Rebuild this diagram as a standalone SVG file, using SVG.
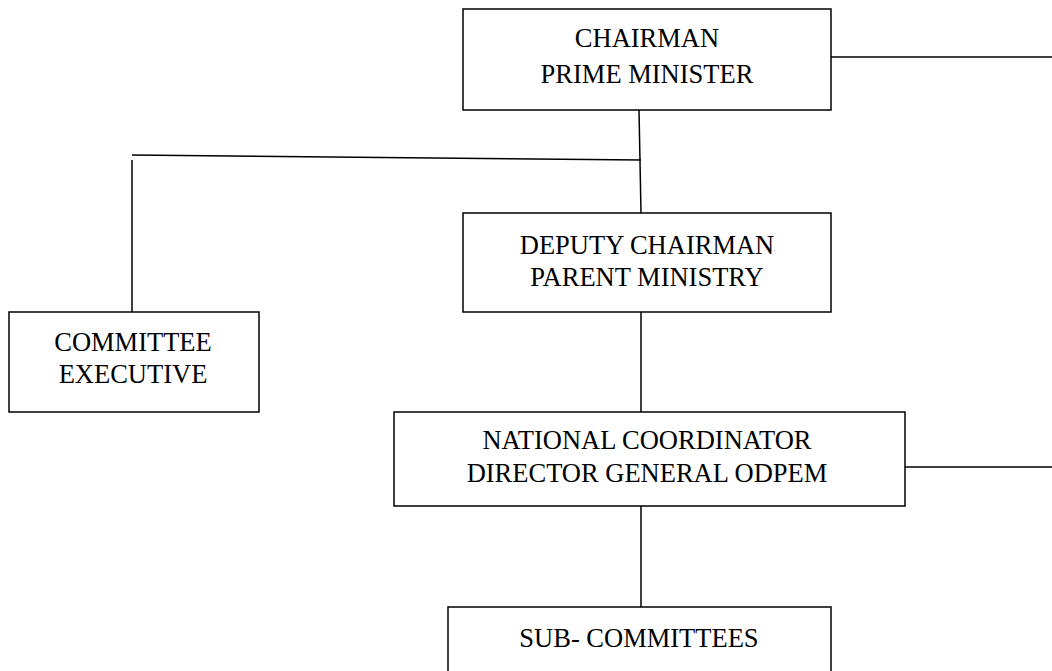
<svg xmlns="http://www.w3.org/2000/svg" width="1052" height="671" viewBox="0 0 1052 671">
<style>
.box{fill:#fff;stroke:#000;stroke-width:1.5}
.ln{stroke:#000;stroke-width:1.5;fill:none}
text{font-family:"Liberation Serif","Times New Roman",serif;font-size:26.5px;fill:#000;text-anchor:middle}
</style>
<rect width="1052" height="671" fill="#fff"/>
<g id="connectors">
<line class="ln" x1="831" y1="57" x2="1052" y2="57"/>
<line class="ln" x1="639" y1="110" x2="641" y2="213"/>
<line class="ln" x1="132" y1="155" x2="641" y2="160"/>
<line class="ln" x1="132" y1="160" x2="132" y2="312"/>
<line class="ln" x1="641" y1="312" x2="641" y2="412"/>
<line class="ln" x1="905" y1="467" x2="1052" y2="467"/>
<line class="ln" x1="641" y1="506" x2="641" y2="607"/>
</g>
<g id="chairman">
<rect class="box" x="463" y="9" width="368" height="101"/>
<text x="647" y="47">CHAIRMAN</text>
<text x="647" y="83">PRIME MINISTER</text>
</g>
<g id="deputy">
<rect class="box" x="463" y="213" width="368" height="99"/>
<text x="647" y="254">DEPUTY CHAIRMAN</text>
<text x="647" y="286">PARENT MINISTRY</text>
</g>
<g id="committee">
<rect class="box" x="9" y="312" width="250" height="100"/>
<text x="133" y="351">COMMITTEE</text>
<text x="133" y="383">EXECUTIVE</text>
</g>
<g id="national">
<rect class="box" x="394" y="412" width="511" height="94"/>
<text x="647" y="449">NATIONAL COORDINATOR</text>
<text x="647" y="482">DIRECTOR GENERAL ODPEM</text>
</g>
<g id="sub">
<rect class="box" x="448" y="607" width="383" height="80"/>
<text x="639" y="647">SUB- COMMITTEES</text>
</g>
</svg>
